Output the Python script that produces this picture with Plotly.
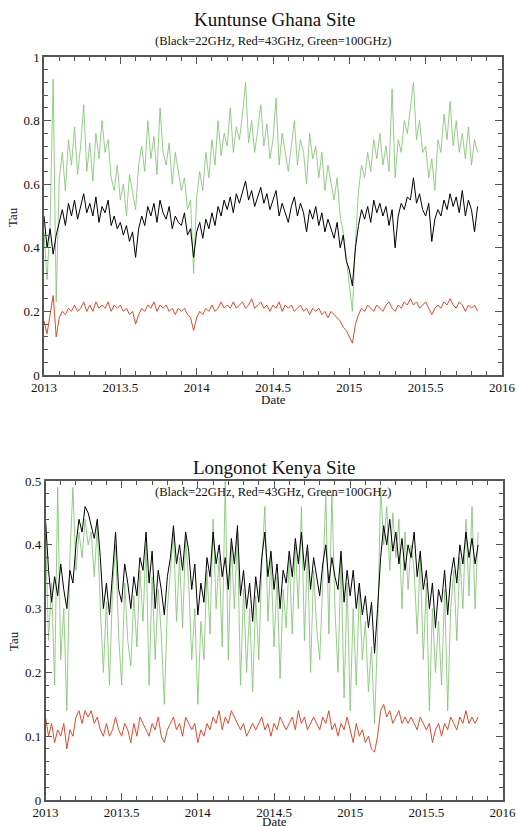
import plotly.graph_objects as go

# decimal-year sampling grid (every 0.02 yr from 2013.00)
n_points = 143
dates = [round(2013.0 + 0.02 * i, 2) for i in range(n_points)]

# Kuntunse Ghana site
ghana_22 = [0.50, 0.40, 0.46, 0.38, 0.44, 0.48, 0.52, 0.47, 0.54, 0.50,
            0.55, 0.49, 0.53, 0.57, 0.51, 0.54, 0.50, 0.56, 0.48, 0.53,
            0.51, 0.55, 0.47, 0.50, 0.46, 0.48, 0.44, 0.47, 0.42, 0.45,
            0.37, 0.46, 0.50, 0.47, 0.53, 0.50, 0.54, 0.48, 0.55, 0.51,
            0.49, 0.53, 0.46, 0.50, 0.48, 0.47, 0.51, 0.44, 0.46, 0.37,
            0.45, 0.48, 0.43, 0.49, 0.46, 0.51, 0.47, 0.53, 0.50, 0.55,
            0.52, 0.56, 0.51, 0.57, 0.54, 0.58, 0.61, 0.55, 0.58, 0.53,
            0.56, 0.59, 0.54, 0.57, 0.52, 0.55, 0.58, 0.50, 0.54, 0.51,
            0.48, 0.53, 0.56, 0.50, 0.54, 0.51, 0.45, 0.52, 0.49, 0.53,
            0.47, 0.51, 0.45, 0.49, 0.46, 0.43, 0.48, 0.40, 0.44, 0.36,
            0.33, 0.28, 0.40, 0.47, 0.52, 0.49, 0.53, 0.48, 0.55, 0.51,
            0.54, 0.50, 0.53, 0.47, 0.52, 0.40, 0.50, 0.54, 0.52, 0.56,
            0.55, 0.62, 0.54, 0.57, 0.52, 0.50, 0.54, 0.42, 0.49, 0.52,
            0.50, 0.55, 0.52, 0.57, 0.53, 0.56, 0.51, 0.58, 0.50, 0.55,
            0.52, 0.45, 0.53]
ghana_43 = [0.17, 0.13, 0.19, 0.25, 0.12, 0.18, 0.20, 0.19, 0.21, 0.20,
            0.22, 0.20, 0.21, 0.23, 0.20, 0.22, 0.20, 0.23, 0.21, 0.22,
            0.21, 0.23, 0.20, 0.22, 0.21, 0.22, 0.20, 0.21, 0.19, 0.20,
            0.16, 0.19, 0.21, 0.20, 0.22, 0.21, 0.23, 0.20, 0.22, 0.21,
            0.22, 0.20, 0.21, 0.19, 0.21, 0.20, 0.21, 0.19, 0.18, 0.14,
            0.18, 0.20, 0.19, 0.21, 0.20, 0.22, 0.20, 0.21, 0.23, 0.21,
            0.22, 0.21, 0.23, 0.21, 0.22, 0.23, 0.21, 0.22, 0.24, 0.21,
            0.22, 0.23, 0.21, 0.22, 0.20, 0.22, 0.21, 0.23, 0.20, 0.22,
            0.21, 0.22, 0.20, 0.21, 0.22, 0.20, 0.21, 0.19, 0.21, 0.20,
            0.21, 0.19, 0.20, 0.18, 0.20, 0.19, 0.18, 0.17, 0.15, 0.14,
            0.12, 0.10, 0.16, 0.19, 0.21, 0.20, 0.22, 0.21, 0.20, 0.22,
            0.21, 0.20, 0.22, 0.23, 0.21, 0.20, 0.22, 0.21, 0.23, 0.22,
            0.24, 0.22, 0.23, 0.21, 0.22, 0.23, 0.21, 0.19, 0.21, 0.22,
            0.21, 0.23, 0.22, 0.24, 0.22, 0.21, 0.23, 0.22, 0.20, 0.22,
            0.21, 0.22, 0.20]
ghana_100 = [0.45, 0.30, 0.48, 0.93, 0.23, 0.62, 0.70, 0.58, 0.74, 0.66,
             0.78, 0.63, 0.72, 0.85, 0.64, 0.73, 0.61, 0.76, 0.68, 0.80,
             0.70, 0.74, 0.62, 0.58, 0.66, 0.55, 0.60, 0.50, 0.63, 0.57,
             0.52, 0.66, 0.72, 0.64, 0.80, 0.68, 0.75, 0.63, 0.84, 0.70,
             0.66, 0.73, 0.60, 0.70, 0.64, 0.58, 0.62, 0.52, 0.55, 0.32,
             0.56, 0.64, 0.58, 0.70, 0.62, 0.74, 0.66, 0.80, 0.69, 0.76,
             0.72, 0.84, 0.70, 0.78, 0.74, 0.82, 0.92, 0.73, 0.80, 0.70,
             0.77, 0.85, 0.72, 0.79, 0.68, 0.74, 0.87, 0.66, 0.76, 0.70,
             0.64, 0.72, 0.80, 0.66, 0.74, 0.70, 0.60, 0.76, 0.68, 0.72,
             0.62, 0.70, 0.58, 0.66, 0.60, 0.55, 0.62, 0.50, 0.45, 0.36,
             0.28, 0.20, 0.42, 0.58, 0.66, 0.62, 0.70, 0.64, 0.74, 0.68,
             0.76, 0.66, 0.72, 0.64, 0.90, 0.62, 0.74, 0.70, 0.80, 0.76,
             0.84, 0.92, 0.74, 0.80, 0.70, 0.72, 0.62, 0.68, 0.58, 0.74,
             0.70, 0.82, 0.74, 0.86, 0.72, 0.80, 0.70, 0.76, 0.68, 0.78,
             0.66, 0.74, 0.70]

# Longonot Kenya site
kenya_22 = [0.44, 0.36, 0.31, 0.35, 0.32, 0.37, 0.33, 0.30, 0.36, 0.34,
            0.40, 0.44, 0.42, 0.46, 0.45, 0.43, 0.41, 0.44, 0.38, 0.30,
            0.34, 0.29, 0.36, 0.42, 0.33, 0.31, 0.37, 0.34, 0.30, 0.35,
            0.32, 0.38, 0.36, 0.42, 0.34, 0.39, 0.30, 0.36, 0.33, 0.29,
            0.35, 0.38, 0.43, 0.37, 0.40, 0.36, 0.42, 0.39, 0.33, 0.37,
            0.29, 0.34, 0.31, 0.38, 0.35, 0.42, 0.37, 0.40, 0.35, 0.38,
            0.33, 0.41, 0.37, 0.43, 0.32, 0.36, 0.30, 0.34, 0.28, 0.35,
            0.31, 0.38, 0.42, 0.35, 0.39, 0.33, 0.37, 0.30, 0.36, 0.34,
            0.39, 0.35, 0.41, 0.37, 0.42, 0.36, 0.40, 0.33, 0.38, 0.35,
            0.32, 0.37, 0.40, 0.34, 0.38, 0.35, 0.33, 0.39, 0.31, 0.36,
            0.32, 0.36, 0.30, 0.34, 0.29, 0.32, 0.27, 0.31, 0.23, 0.30,
            0.38, 0.43, 0.40, 0.44, 0.39, 0.42, 0.37, 0.41, 0.36, 0.40,
            0.38, 0.42, 0.35, 0.39, 0.33, 0.36, 0.30, 0.34, 0.27, 0.33,
            0.31, 0.36, 0.29, 0.35, 0.38, 0.34, 0.40, 0.37, 0.42, 0.38,
            0.41, 0.37, 0.40]
kenya_43 = [0.13, 0.10, 0.12, 0.09, 0.11, 0.10, 0.12, 0.08, 0.11, 0.10,
            0.13, 0.14, 0.12, 0.14, 0.13, 0.14, 0.12, 0.13, 0.11, 0.10,
            0.12, 0.10, 0.11, 0.13, 0.11, 0.10, 0.12, 0.11, 0.09, 0.12,
            0.10, 0.13, 0.12, 0.11, 0.10, 0.12, 0.11, 0.13, 0.10, 0.09,
            0.11, 0.12, 0.13, 0.11, 0.12, 0.10, 0.13, 0.12, 0.11, 0.12,
            0.09, 0.11, 0.10, 0.12, 0.11, 0.13, 0.12, 0.14, 0.11, 0.13,
            0.12, 0.14, 0.13, 0.12, 0.11, 0.12, 0.10, 0.11, 0.12, 0.11,
            0.12, 0.13, 0.11, 0.12, 0.10, 0.12, 0.11, 0.13, 0.12, 0.11,
            0.12, 0.13, 0.11, 0.14, 0.12, 0.13, 0.11, 0.12, 0.13, 0.12,
            0.11, 0.13, 0.12, 0.14, 0.11, 0.12, 0.10, 0.12, 0.11, 0.13,
            0.11, 0.09, 0.12, 0.10, 0.11, 0.09, 0.10, 0.08, 0.075, 0.10,
            0.14, 0.15, 0.13, 0.14, 0.12, 0.13, 0.14, 0.12, 0.13, 0.12,
            0.13, 0.12, 0.11, 0.13, 0.12, 0.11, 0.12, 0.09, 0.11, 0.12,
            0.10, 0.12, 0.11, 0.13, 0.12, 0.11, 0.13, 0.12, 0.14, 0.12,
            0.13, 0.12, 0.13]
kenya_100 = [0.42, 0.25, 0.34, 0.18, 0.49, 0.22, 0.30, 0.14, 0.38, 0.49,
             0.36, 0.42, 0.38, 0.44, 0.40, 0.42, 0.35, 0.43, 0.30, 0.20,
             0.31, 0.18, 0.33, 0.40, 0.26, 0.18, 0.34, 0.25, 0.21, 0.32,
             0.24, 0.36, 0.28, 0.40, 0.18, 0.35, 0.22, 0.33, 0.26, 0.15,
             0.30, 0.36, 0.42, 0.28, 0.38, 0.27, 0.41, 0.34, 0.22, 0.30,
             0.15, 0.28, 0.22, 0.36, 0.26, 0.44, 0.30, 0.38, 0.24, 0.50,
             0.22, 0.40, 0.30, 0.42, 0.18, 0.33, 0.20, 0.30, 0.17, 0.32,
             0.22, 0.37, 0.46, 0.28, 0.38, 0.24, 0.35, 0.19, 0.33, 0.27,
             0.38, 0.26, 0.40, 0.30, 0.46, 0.25, 0.39, 0.20, 0.36, 0.27,
             0.22, 0.34, 0.48, 0.26, 0.48, 0.30, 0.20, 0.38, 0.16, 0.34,
             0.14, 0.30, 0.18, 0.33, 0.22, 0.28, 0.17, 0.24, 0.12, 0.26,
             0.49, 0.40, 0.46, 0.36, 0.45, 0.38, 0.44, 0.30, 0.42, 0.33,
             0.40, 0.36, 0.26, 0.38, 0.22, 0.34, 0.14, 0.30, 0.20, 0.28,
             0.18, 0.33, 0.14, 0.30, 0.36, 0.25, 0.38, 0.30, 0.44, 0.32,
             0.46, 0.30, 0.42]

x_ticks = [2013, 2013.5, 2014, 2014.5, 2015, 2015.5, 2016]
x_tick_labels = ["2013", "2013.5", "2014", "2014.5", "2015", "2015.5", "2016"]
top_y_ticks = [0, 0.2, 0.4, 0.6, 0.8, 1]
top_y_labels = ["0", "0.2", "0.4", "0.6", "0.8", "1"]
bot_y_ticks = [0, 0.1, 0.2, 0.3, 0.4, 0.5]
bot_y_labels = ["0", "0.1", "0.2", "0.3", "0.4", "0.5"]

GREEN = "rgba(130,196,115,0.85)"
BLACK = "#000000"
RED = "#e04a2e"
FONT = "Liberation Serif, Times New Roman, serif"
W, H = 518, 826

fig = go.Figure()
for ys, col, xa, ya in [
    (ghana_100, GREEN, "x", "y"), (ghana_22, BLACK, "x", "y"), (ghana_43, RED, "x", "y"),
    (kenya_100, GREEN, "x2", "y2"), (kenya_22, BLACK, "x2", "y2"), (kenya_43, RED, "x2", "y2"),
]:
    fig.add_trace(go.Scatter(x=dates, y=ys, mode="lines", line=dict(color=col, width=1),
                             xaxis=xa, yaxis=ya, showlegend=False, hoverinfo="skip"))

def px_x(p):
    return p / W

def px_y(p):
    return 1 - p / H

axis_common = dict(showgrid=False, zeroline=False, showline=True, linecolor="#555555",
                   linewidth=1.5, mirror="allticks", ticks="inside", ticklen=7,
                   tickcolor="#555555", tickwidth=1, automargin=False,
                   tickfont=dict(family=FONT, size=13, color="#111111"))

fig.update_layout(
    width=W, height=H, margin=dict(l=0, r=0, t=0, b=0, autoexpand=False),
    plot_bgcolor="white", paper_bgcolor="white",
    xaxis=dict(domain=[px_x(44), px_x(502)], range=[2013, 2016], anchor="y",
               tickvals=x_ticks, ticktext=x_tick_labels,
               minor=dict(dtick=0.1, tick0=2013, ticks="inside", ticklen=4, tickcolor="#555555"),
               **axis_common),
    yaxis=dict(domain=[px_y(375), px_y(57)], range=[0, 1], anchor="x",
               tickvals=top_y_ticks, ticktext=top_y_labels,
               minor=dict(dtick=0.04, tick0=0, ticks="inside", ticklen=4, tickcolor="#555555"),
               **axis_common),
    xaxis2=dict(domain=[px_x(45.5), px_x(502.5)], range=[2013, 2016], anchor="y2",
                tickvals=x_ticks, ticktext=x_tick_labels,
                minor=dict(dtick=0.1, tick0=2013, ticks="inside", ticklen=4, tickcolor="#555555"),
                **axis_common),
    yaxis2=dict(domain=[px_y(800), px_y(481)], range=[0, 0.5], anchor="x2",
                tickvals=bot_y_ticks, ticktext=bot_y_labels,
                minor=dict(dtick=0.02, tick0=0, ticks="inside", ticklen=4, tickcolor="#555555"),
                **axis_common),
)

def note(text, x, y, size, angle=0):
    fig.add_annotation(text=text, x=px_x(x), y=px_y(y), xref="paper", yref="paper",
                       showarrow=False, textangle=angle, xanchor="center", yanchor="middle",
                       font=dict(family=FONT, size=size, color="#111111"))

note("Kuntunse Ghana Site", 274, 19, 19)
note("(Black=22GHz, Red=43GHz, Green=100GHz)", 273, 41, 12.5)
note("Date", 273, 399, 13)
note("Tau", 13, 217, 13, angle=-90)
note("Longonot Kenya Site", 274, 467, 19)
note("(Black=22GHz, Red=43GHz, Green=100GHz)", 273, 492, 12.5)
note("Date", 274, 821, 13)
note("Tau", 13, 641, 13, angle=-90)

fig.write_html("out.html", config={"displayModeBar": False},
               post_script="document.body.style.margin='0';document.body.style.overflow='hidden';")
